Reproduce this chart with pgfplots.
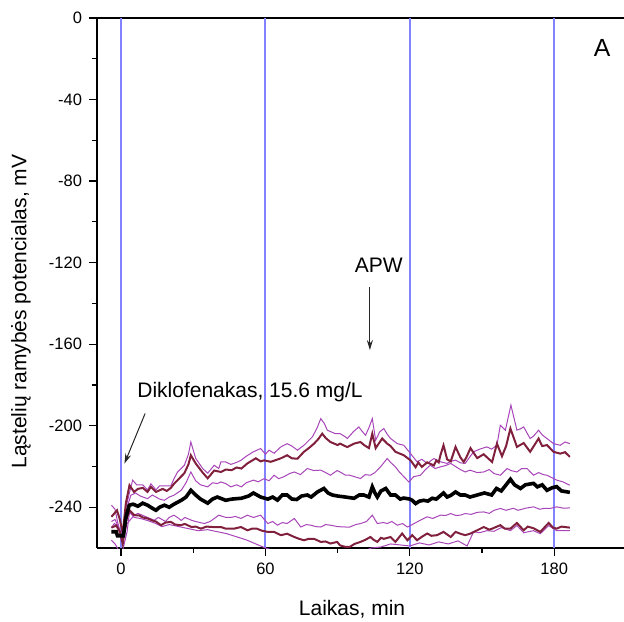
\documentclass[border=0pt]{standalone}
\usepackage{fontspec}
\setmainfont{Liberation Sans}
\usepackage{pgfplots}
\pgfplotsset{compat=1.18}
\usetikzlibrary{arrows.meta}
\definecolor{maroon}{HTML}{80203C}
\definecolor{purp}{HTML}{A845B8}
\definecolor{gridblue}{HTML}{8282FF}

\begin{document}
\begin{tikzpicture}
\begin{axis}[
 name=ax, at={(0,0)}, anchor=south west,
 scale only axis, width=263.5pt, height=265pt,
 xmin=-10, xmax=209, ymin=-260, ymax=0,
 axis y line*=left, y axis line style={-},
 xtick={0,60,120,180}, ytick={0,-40,-80,-120,-160,-200,-240},
 minor x tick num=1, minor y tick num=1,
 xtick pos=left, ytick pos=left,
 tick align=outside,
 major tick length=4pt, minor tick length=2.5pt,
 tick style={black, line width=0.6pt},
 axis line style={line width=0.8pt},
 ticklabel style={font=\fontsize{8.25}{10}\selectfont},
 /pgf/number format/assume math mode=true,
 xlabel={Laikas, min}, ylabel={Ląstelių ramybės potencialas, mV},
 every axis x label/.style={at={(axis description cs:0.484,0)}, anchor=base, yshift=-33.5pt, font=\fontsize{10.5}{12}\selectfont},
 every axis y label/.style={at={(axis description cs:-0.1442,0.446)}, anchor=center, rotate=90, font=\fontsize{10.5}{12}\selectfont},
 clip=true,
]
% vertical reference lines
\addplot[draw=gridblue, line width=1pt, forget plot] coordinates {(0,0) (0,-260)};
\addplot[draw=gridblue, line width=1pt, forget plot] coordinates {(60,0) (60,-260)};
\addplot[draw=gridblue, line width=1pt, forget plot] coordinates {(120,0) (120,-260)};
\addplot[draw=gridblue, line width=1pt, forget plot] coordinates {(180,0) (180,-260)};
% lowest purple
\addplot[purp, line width=0.5pt] coordinates {
(-4,-256.2) (-2.5,-258) (-1.3,-260.5) (0.5,-262) (2.5,-252) (3.5,-242.5) (5.5,-245) (8,-245.5) (11,-246.5) (14.5,-248) (17,-249.5) (20,-248.5) (24,-249.5) (28,-250.5) (32,-251.5) (36,-251) (40,-252) (44,-253) (48,-254.5) (52,-256) (56,-258) (60,-260) (64,-261.5) (70,-263) (80,-265) (90,-265) (100,-262) (104,-260) (108,-259.5) (112,-258) (116,-258.5) (120,-259) (124,-257.5) (128,-258.5) (132,-257) (136,-258) (140,-256.5) (143.8,-259) (146.5,-252) (149,-252.5) (152,-251.5) (155,-251.8) (158,-250) (161.8,-251.5) (164.5,-249) (167.3,-252.5) (171.4,-251.5) (174.2,-253) (177.7,-249) (181,-251.5) (186.5,-251.5)
};
% lower-middle purple
\addplot[purp, line width=0.5pt] coordinates {
(-4,-250) (-2.8,-248) (-1.5,-249) (0.5,-257) (2.5,-248) (5.5,-243.9) (7,-243) (9,-244) (11,-245) (13.8,-246.4) (15.5,-245) (17,-246) (18.5,-247) (20,-245) (22,-243.9) (24,-245.5) (25,-246.5) (26.5,-245) (29.3,-246.4) (31,-247) (34.6,-248) (37,-247) (40.6,-243.9) (43.5,-245) (45.6,-245) (47.5,-244.5) (49.8,-245.5) (52.5,-243.9) (55,-245) (58,-243.9) (61,-248) (63,-247) (65,-248.8) (67,-247.5) (69,-248) (72,-245.5) (74.7,-249.7) (77,-248.5) (78.8,-248.8) (81,-249.5) (83,-249.7) (85,-248.5) (87,-248.8) (90,-249.5) (93.3,-249.7) (95,-249.7) (97.5,-248.5) (99.5,-248) (102,-247) (104.4,-243.9) (106.5,-248) (109,-247.5) (110.6,-248) (112.5,-247) (114.8,-248.8) (117,-248) (119,-249.7) (121,-248.5) (123,-247.2) (125,-246) (127.2,-244.7) (129.5,-245.5) (132.7,-243.9) (135,-244) (137,-243.1) (139,-244) (141,-243.9) (143,-243.1) (145.5,-243.5) (148,-242.5) (150.7,-242.3) (153,-243) (155,-241.5) (157.6,-240.6) (160,-241.5) (163,-240.5) (165,-241.5) (168,-240.5) (171.4,-239.8) (174,-241) (176,-240.5) (178.4,-240.6) (181,-239.8) (184,-240.5) (186.5,-240.3)
};
% middle-upper purple
\addplot[purp, line width=0.5pt] coordinates {
(-4,-247) (-2.5,-246) (-1,-250) (0.8,-256) (2.5,-240) (4.1,-234.1) (6,-233) (8,-234.5) (11,-235.8) (13,-234) (14.5,-235) (16,-236) (18,-236.6) (20,-235) (22,-234.1) (25,-231.7) (27,-228) (29,-222.7) (31,-227) (33,-229) (36,-230) (38,-228) (40,-228.4) (41.5,-227.6) (43.5,-228.4) (45.6,-230) (48,-229) (50,-230) (52,-228) (55,-226.7) (57,-227.5) (59.4,-226) (61.5,-227) (63.6,-224.3) (65.5,-226) (67.7,-225) (70,-223.5) (72,-222.7) (74.5,-224) (77.4,-221) (80,-222) (83,-221.8) (85,-223) (87,-224.3) (89.8,-222) (91,-222.7) (93.3,-224.3) (95,-224.3) (97,-225) (99.5,-225.9) (101.5,-224) (103.6,-224.3) (105.5,-223) (107.8,-220.2) (110.6,-216.1) (112,-218) (114,-220.2) (115.5,-222.5) (117.5,-225) (119.6,-227.6) (121.6,-225) (124.4,-224.3) (126.5,-221.5) (128.5,-219.4) (130.5,-221) (132.7,-220.2) (135,-219.5) (137,-218.5) (139.6,-220.5) (141,-221.5) (143,-222.7) (145,-221.8) (148,-223) (150.7,-222.7) (153,-221.5) (155,-223.5) (157.6,-224.3) (160.4,-221) (162,-222) (164.5,-222.7) (166.5,-221) (168.7,-221) (171.4,-224.3) (173.5,-223) (175.5,-224) (177,-224.3) (179,-225.5) (181,-226.7) (183.5,-227.5) (186.5,-229.2)
};
% upper purple
\addplot[purp, line width=0.5pt] coordinates {
(-4,-239) (-2.5,-241) (-1.5,-247) (0.5,-256) (2,-240) (4.8,-226.7) (6.5,-229) (9,-229) (11,-231.5) (12.4,-228.5) (14.5,-231.5) (16,-229.5) (18,-229.5) (20.7,-229.5) (22,-226) (23.5,-222.7) (26.3,-219.4) (28,-214) (29,-208) (30,-212) (31,-216) (33.9,-221) (36,-223.3) (38.7,-219.4) (40.6,-221) (41.5,-217.8) (43.5,-217.8) (45.6,-219) (48,-218) (49.8,-217) (52,-215) (55,-212.8) (58,-211.2) (60,-214) (61.5,-212) (63.6,-213.5) (66.4,-210.4) (69,-208.8) (71,-210) (73.3,-212) (76,-209.6) (79.5,-205.5) (81.5,-201) (83,-196.5) (84.5,-199) (85.7,-202.2) (89,-203.9) (91,-203.9) (93.3,-205.5) (94,-206.3) (96.5,-203) (98.8,-200.6) (100,-202.5) (101.6,-204.7) (103,-201) (104.4,-196.5) (105.8,-207.1) (107.5,-203) (109.2,-201.4) (110.5,-204) (112,-206.3) (114.8,-208.8) (117.5,-209.6) (120.3,-213.7) (123,-217.7) (125,-216.5) (127.2,-218.5) (130,-216.1) (132.7,-217.7) (135.5,-218.5) (137,-217.5) (139,-216.9) (141,-218.2) (143,-218.5) (144.5,-216) (146.5,-212.8) (149,-211.5) (152,-210.4) (154,-211.5) (156.2,-209.5) (157.6,-199.8) (159.7,-202.2) (162,-189.9) (164.5,-202.2) (166,-201.5) (167.3,-200.6) (170,-206.3) (171.5,-205) (173.5,-202.2) (175,-204.5) (177,-206.3) (179.7,-208.8) (182.5,-209.6) (184.5,-208) (186.5,-208.8)
};
% lower maroon
\addplot[maroon, line width=1pt] coordinates {
(-4,-250) (-2,-249) (-0.5,-252) (0.7,-258) (2,-247) (3.5,-241.5) (5.5,-243.9) (7.5,-244) (9,-245) (11,-245.5) (13,-246.5) (14.5,-247) (16.6,-248.8) (18.5,-247.5) (20.7,-247.2) (22.5,-248.5) (24.9,-248.8) (26.5,-248.2) (29.3,-249.7) (31,-249.5) (33.2,-250.5) (35.5,-249.5) (38,-249.7) (41.5,-249.7) (43.5,-250.5) (47,-250.5) (49.8,-249.7) (52.5,-251.3) (54.5,-250.5) (56.4,-250.5) (58.5,-251.5) (61,-252.1) (63.6,-252.1) (66.4,-253.7) (69,-253) (72,-254.6) (74,-255.5) (76,-256.2) (78,-255.5) (80.2,-255.5) (83,-257) (85,-256.8) (87,-257.8) (89.8,-257) (91,-258.7) (93.3,-259.5) (95,-259.5) (97,-258) (99.5,-257) (101.5,-256) (103.6,-254.6) (105,-256) (106.5,-257) (108,-255) (109.2,-255.5) (112,-254.6) (114,-257) (116.8,-252.9) (119,-256.2) (121,-253.7) (123,-256.2) (125,-254.5) (127.2,-252.9) (129,-254) (131.3,-253.7) (134,-252.1) (137,-254.6) (139,-252.1) (141,-253) (143,-253.7) (145,-253) (148,-251.3) (150.7,-249.7) (153,-251) (154.2,-250.5) (157.6,-248.8) (159.5,-250.5) (161.8,-250.5) (164.5,-247.7) (167.3,-251.3) (169,-249.5) (171.4,-250.3) (174.2,-252.1) (177.7,-247.7) (179.5,-250) (181,-250.5) (183,-249.5) (186.5,-250)
};
% upper maroon
\addplot[maroon, line width=1pt] coordinates {
(-4,-244.7) (-1.7,-241.5) (-0.5,-246) (0.7,-252.8) (2,-238) (3.5,-229.2) (5.4,-232.5) (7,-231) (9,-230.5) (11,-232.5) (12.4,-230) (14.5,-232.5) (17.3,-231) (19,-232) (20.7,-230.5) (22,-228.5) (23.5,-226.7) (26.3,-223.3) (28,-219) (29,-214.5) (31,-218.5) (33.9,-223) (36,-225.8) (38.7,-222) (41.5,-222.7) (43.5,-221.5) (46,-221.8) (48,-220.5) (50,-221) (52.5,-218.5) (56,-216) (58,-217.5) (59.4,-217) (62.2,-217.7) (64,-217) (66.4,-216) (69,-214.5) (71,-216) (73.3,-216.2) (76,-212.8) (78,-211) (80.2,-208.8) (82,-206.5) (83.6,-203.9) (85,-206) (87,-208) (90,-209.5) (91,-208.8) (94,-210.5) (96.8,-208.8) (99.5,-208) (101,-209.5) (103,-211) (104.4,-203.9) (105.8,-211) (108.5,-206.3) (110.6,-208.8) (112,-210) (114,-212.8) (117.5,-214.5) (120.3,-217) (122.4,-220.4) (123.5,-218) (125,-220.2) (127.2,-218) (130,-219.5) (131,-217) (132,-218) (132.7,-214.5) (134,-209.6) (135.5,-216.5) (137,-217.5) (139,-210.4) (140,-213) (141,-215.5) (142.4,-217.8) (143.5,-215.5) (145.2,-211) (148,-215.9) (150.7,-214) (152.5,-216) (154.2,-217.8) (156.2,-208.8) (158.3,-215) (160,-210) (161.8,-201.4) (163.5,-207) (164.5,-210.4) (167.3,-208.5) (170,-212.8) (173.5,-206.3) (175,-210) (177,-209.5) (179.7,-212.8) (182.5,-213.7) (184.5,-213) (186.5,-215.3)
};
% mean (black)
\addplot[black, line width=1.8pt] coordinates {
(-4,-252) (-2,-252) (-1.5,-254) (1,-254) (2,-245) (3.4,-239) (5,-238.5) (7,-239.5) (9,-238) (11,-239) (13,-240.5) (14.5,-241.5) (16,-240) (18,-239) (20,-240) (22,-238.5) (25,-236.6) (27,-235) (29,-231.7) (31,-234) (33,-236) (36,-238) (38,-236) (40,-235) (43.5,-236.6) (46,-236) (50,-235.6) (53,-234.5) (55,-233) (58,-235) (61,-236) (63,-235) (65,-236.5) (67,-234) (69,-234) (71,-236) (73,-236.2) (75,-234.5) (77.4,-234) (79,-235) (81.6,-232.5) (84.3,-230.8) (86,-233) (87.8,-234) (90,-234.5) (93.3,-235) (96.8,-235.6) (99,-234) (100.9,-234) (103,-235) (104.4,-230) (105.5,-233) (106.5,-235) (108,-232) (110,-230.8) (112,-234) (114,-234) (116,-236) (117.5,-235.5) (120,-236) (121,-236.6) (122.4,-238.2) (124,-237) (125.8,-236.6) (127.5,-237) (129.3,-235.6) (131,-236) (134,-233) (135.5,-235) (137,-234.2) (139,-232.5) (141,-234) (143,-234) (145,-235) (148,-234) (151,-233) (154,-234) (156,-230.8) (158,-232) (160,-229) (161.8,-226.3) (163.5,-229) (166,-230.8) (168,-229) (171.4,-228.3) (173,-230) (175,-229) (177,-231.7) (179,-230.5) (181,-229.9) (183,-232) (186.5,-232.7)
};
\node[anchor=base west, inner sep=0pt, font=\fontsize{10.5}{12}\selectfont] at (axis cs:6.6,-186) {Diklofenakas, 15.6 mg/L};
\draw[-{Stealth[length=5pt,width=3pt]}, line width=0.5pt, black!85] (axis cs:10,-194) -- (axis cs:1.4,-218.6);
\node[anchor=base, inner sep=0pt, font=\fontsize{10.5}{12}\selectfont] at (axis cs:107.1,-125) {APW};
\draw[-{Stealth[length=5pt,width=3pt]}, line width=0.5pt, black!85] (axis cs:103.4,-131.9) -- (axis cs:103.4,-162.9);
\node[anchor=base, inner sep=0pt, font=\fontsize{12.4}{14}\selectfont] at (axis cs:199.9,-19.1) {A};
\end{axis}
\pgfresetboundingbox
\path[use as bounding box] ([xshift=-48.5pt,yshift=-36.5pt]ax.south west) rectangle ([yshift=9pt]ax.north east);
\end{tikzpicture}
\end{document}
